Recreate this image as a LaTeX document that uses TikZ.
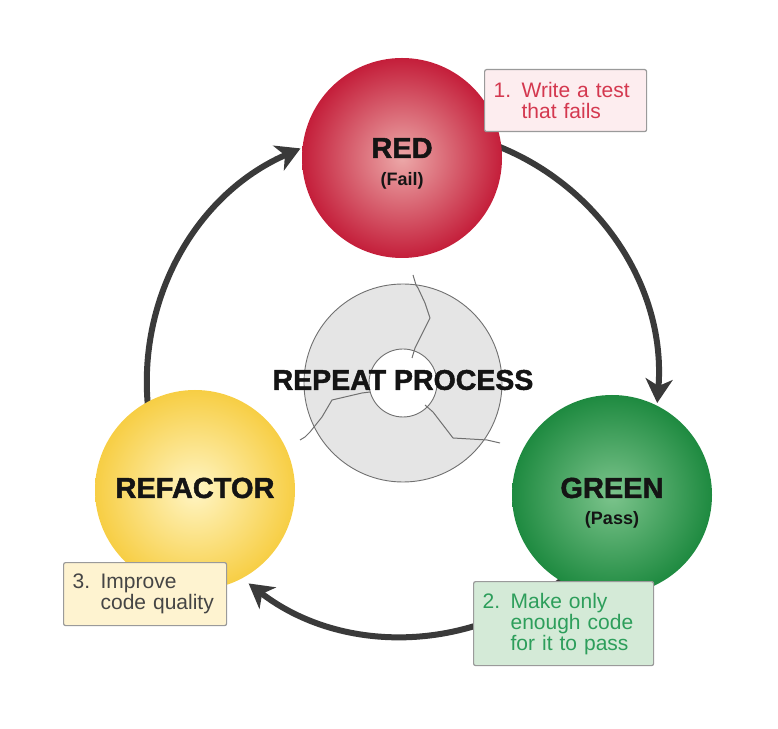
\documentclass[tikz,border=0pt]{standalone}
\usepackage{fontspec}
\setmainfont{Liberation Sans}
\newfontfamily\heavyfont[FakeBold=1.6]{Liberation Sans Bold}
\usetikzlibrary{arrows.meta,positioning,calc}
\definecolor{TDDRed}{HTML}{C41E3A}
\definecolor{TDDRedLight}{HTML}{ECA8A8}
\definecolor{TDDGreen}{HTML}{1E8A40}
\definecolor{TDDGreenLight}{HTML}{7CC48C}
\definecolor{TDDYellow}{HTML}{F7CE44}
\definecolor{TDDYellowLight}{HTML}{FFF5C4}
\definecolor{TDDInk}{HTML}{141414}
\definecolor{TDDArrow}{HTML}{3A3A3A}
\definecolor{TDDRing}{HTML}{E5E5E5}
\definecolor{TDDRingEdge}{HTML}{707070}
\definecolor{TDDBoxEdge}{HTML}{9A9A9A}
\definecolor{NoteRedFill}{HTML}{FDEDEF}
\definecolor{NoteRedText}{HTML}{D4384F}
\definecolor{NoteGreenFill}{HTML}{D4EAD7}
\definecolor{NoteGreenText}{HTML}{2D9E5B}
\definecolor{NoteYellowFill}{HTML}{FEF3D0}
\definecolor{NoteYellowText}{HTML}{454545}
\newcommand{\notenum}[1]{\makebox[28pt][l]{#1}}

\begin{document}
\begin{tikzpicture}[
  x=1pt, y=1pt,
  stage/.style={circle, minimum size=200, inner sep=0pt},
  stagename/.style={font=\heavyfont\fontsize{29}{30}\selectfont, text=TDDInk, inner sep=0pt},
  stagesub/.style={font=\bfseries\fontsize{18}{18}\selectfont, text=TDDInk, inner sep=0pt},
  note/.style={draw=TDDBoxEdge, line width=1.2, rounded corners=2pt, anchor=north west,
               font=\fontsize{21}{21}\selectfont, align=left, inner xsep=9, inner ysep=4},
  cyclearrow/.style={line width=6, color=TDDArrow,
                     -{Stealth[length=24pt, width=27pt, inset=7pt]}},
  cut/.style={color=TDDRingEdge, line width=1, line join=round},
]
\useasboundingbox (0,0) rectangle (778,728);

% --- Centre ring ---
\coordinate (hub) at (403,345);
\fill[TDDRing, draw=TDDRingEdge, line width=0.9, even odd rule]
  (hub) circle[radius=99] (hub) circle[radius=34];
\draw[cut] (413,453) -- (416,443) -- (418,440) -- (425,425) -- (430,410) -- (415,380) -- (412,370);
\draw[cut] (370,336) -- (362,335) -- (332,328) -- (322,311) -- (310,296) -- (305,291) -- (300,288);
\draw[cut] (425,323) -- (433,316) -- (453,290) -- (487,288) -- (500,285);
\node[stagename, font=\heavyfont\fontsize{28.5}{30}\selectfont] (repeat) at ($(hub)+(0,3)$) {REPEAT PROCESS};

% --- Cycle arrows ---
\draw[cyclearrow] ($(hub)+(80:255)$) arc[start angle=80, end angle=-4.5, radius=255];
\draw[cyclearrow] ($(hub)+(-50:253)$) arc[start angle=-50, end angle=-127.6, radius=253];
\draw[cyclearrow] ($(hub)+(200:256)$) arc[start angle=200, end angle=113.6, radius=256];

% --- Stages ---
\node[stage, shading=radial, inner color=TDDRedLight, outer color=TDDRed] (red) at (402,570) {};
\node[stagename] (red-name) at ($(red.center)+(0,10)$) {RED};
\node[stagesub] (red-sub) at ($(red.center)+(0,-23)$) {(Fail)};

\node[stage, shading=radial, inner color=TDDGreenLight, outer color=TDDGreen] (green) at (612,233) {};
\node[stagename] (green-name) at ($(green.center)+(0,7)$) {GREEN};
\node[stagesub] (green-sub) at ($(green.center)+(0,-25)$) {(Pass)};

\node[stage, shading=radial, inner color=TDDYellowLight, outer color=TDDYellow] (yellow) at (195,238) {};
\node[stagename] (yellow-name) at ($(yellow.center)+(0,2)$) {REFACTOR};

% --- Notes ---
\node[note, fill=NoteRedFill, text=NoteRedText, text width=144, minimum height=62] (note-red) at (484,659)
  {\notenum{1.}Write a test\\\hspace*{28pt}that fails};
\node[note, fill=NoteGreenFill, text=NoteGreenText, text width=162, minimum height=84] (note-green) at (473,147)
  {\notenum{2.}Make only\\\hspace*{28pt}enough code\\\hspace*{28pt}for it to pass};
\node[note, fill=NoteYellowFill, text=NoteYellowText, text width=145, minimum height=63] (note-yellow) at (63,166)
  {\notenum{3.}Improve\\\hspace*{28pt}code quality};

\end{tikzpicture}
\end{document}
